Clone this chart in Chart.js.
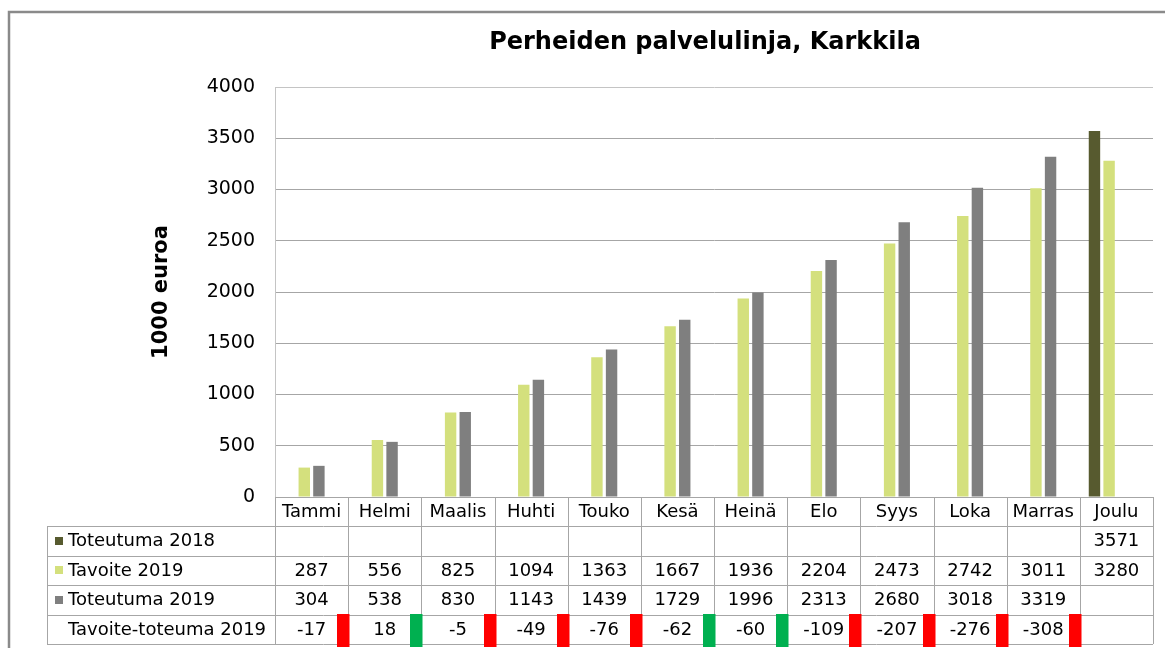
<!DOCTYPE html>
<html lang="fi">
<head>
<meta charset="utf-8">
<title>Perheiden palvelulinja, Karkkila</title>
<script src="https://cdn.jsdelivr.net/npm/chart.js@4.4.1/dist/chart.umd.min.js"></script>
<style>
  html, body { margin: 0; padding: 0; background: #fff; }
  canvas { display: block; }
</style>
</head>
<body>
<canvas id="chart" width="1165" height="648"></canvas>
<script>
// ======================
// DATA
// ======================
const kuukaudet = ['Tammi', 'Helmi', 'Maalis', 'Huhti', 'Touko', 'Kesä', 'Heinä', 'Elo', 'Syys', 'Loka', 'Marras', 'Joulu'];
const toteuma2018 = [null, null, null, null, null, null, null, null, null, null, null, 3571];
const tavoite2019 = [287, 556, 825, 1094, 1363, 1667, 1936, 2204, 2473, 2742, 3011, 3280];
const toteuma2019 = [304, 538, 830, 1143, 1439, 1729, 1996, 2313, 2680, 3018, 3319, null];
const erotus2019 = [-17, 18, -5, -49, -76, -62, -60, -109, -207, -276, -308, null];
// liikennevalot taulukon viimeisellä rivillä
const erotusTila = ['red', 'green', 'red', 'red', 'red', 'green', 'green', 'red', 'red', 'red', 'red', null];

const FONT = "'DejaVu Sans', Verdana, sans-serif";
const VARIT = ['#575a2f', '#d4e07d', '#7f7f7f'];
const VALOT = { red: '#ff0000', green: '#00b050' };
const VIIVA = '#a6a6a6';

// ======================
// TAULUKKO KAAVION ALLA
// ======================
const taulukkoPlugin = {
    id: 'taulukko',
    beforeDraw(chart) {
        const ctx = chart.ctx;
        ctx.save();
        ctx.fillStyle = '#ffffff';
        ctx.fillRect(0, 0, chart.width, chart.height);
        ctx.strokeStyle = '#8a8a8a';
        ctx.lineWidth = 2.5;
        ctx.strokeRect(9, 12, chart.width + 40, chart.height + 40);
        ctx.restore();
    },
    afterDraw(chart) {
        const ctx = chart.ctx;
        const ca = chart.chartArea;
        const x = chart.scales.x;
        const colW = (ca.right - ca.left) / kuukaudet.length;
        const headTop = ca.bottom;
        const headBottom = headTop + 29;
        const rowH = 29.5;
        const labelLeft = 47;

        const rivit = [
            { nimi: chart.data.datasets[0].label, arvot: toteuma2018, vari: VARIT[0] },
            { nimi: chart.data.datasets[1].label, arvot: tavoite2019, vari: VARIT[1] },
            { nimi: chart.data.datasets[2].label, arvot: toteuma2019, vari: VARIT[2] },
            { nimi: chart.data.datasets[3].label, arvot: erotus2019, vari: null }
        ];
        const tableBottom = headBottom + rowH * rivit.length;

        ctx.save();
        ctx.strokeStyle = VIIVA;
        ctx.lineWidth = 1;
        ctx.beginPath();
        // vaakaviivat
        ctx.moveTo(ca.left, Math.round(headTop) + 0.5);
        ctx.lineTo(ca.right, Math.round(headTop) + 0.5);
        for (let r = 0; r <= rivit.length; r++) {
            const y = Math.round(headBottom + r * rowH) + 0.5;
            ctx.moveTo(labelLeft, y);
            ctx.lineTo(ca.right, y);
        }
        // pystyviivat
        for (let i = 0; i <= kuukaudet.length; i++) {
            const xx = Math.round(ca.left + i * colW) + 0.5;
            ctx.moveTo(xx, headTop);
            ctx.lineTo(xx, tableBottom);
        }
        ctx.moveTo(labelLeft + 0.5, headBottom);
        ctx.lineTo(labelLeft + 0.5, tableBottom);
        ctx.stroke();

        ctx.fillStyle = '#000000';
        ctx.font = '18px ' + FONT;
        ctx.textBaseline = 'middle';
        ctx.textAlign = 'center';

        // kuukausien nimet
        kuukaudet.forEach((k, i) => {
            ctx.fillText(k, x.getPixelForValue(i), (headTop + headBottom) / 2 + 1);
        });

        rivit.forEach((rivi, r) => {
            const yc = headBottom + r * rowH + rowH / 2 + 1;
            // selite
            if (rivi.vari) {
                ctx.fillStyle = rivi.vari;
                ctx.fillRect(55, Math.round(yc - 5), 8, 8);
            }
            ctx.fillStyle = '#000000';
            ctx.textAlign = 'left';
            ctx.fillText(rivi.nimi, 68, yc);
            ctx.textAlign = 'center';
            rivi.arvot.forEach((v, i) => {
                if (v === null) return;
                ctx.fillText(String(v), x.getPixelForValue(i), yc);
            });
        });

        // punaiset ja vihreät merkit
        erotusTila.forEach((t, i) => {
            if (!t) return;
            const right = ca.left + (i + 1) * colW;
            ctx.fillStyle = VALOT[t];
            ctx.fillRect(Math.round(right - 11), 614, 12.5, 33);
        });

        // otsikko
        ctx.fillStyle = '#000000';
        ctx.font = 'bold 24px ' + FONT;
        ctx.textAlign = 'center';
        ctx.fillText('Perheiden palvelulinja, Karkkila', 705, 43);
        ctx.restore();
    }
};

// ======================
// KAAVIO
// ======================
const ctx = document.getElementById('chart').getContext('2d');
new Chart(ctx, {
    type: 'bar',
    data: {
        labels: kuukaudet,
        datasets: [
            { label: 'Toteutuma 2018', data: toteuma2018, backgroundColor: VARIT[0] },
            { label: 'Tavoite 2019', data: tavoite2019, backgroundColor: VARIT[1] },
            { label: 'Toteutuma 2019', data: toteuma2019, backgroundColor: VARIT[2] },
            { label: 'Tavoite-toteuma 2019', data: erotus2019, backgroundColor: 'rgba(0,0,0,0)' }
        ]
    },
    options: {
        responsive: false,
        animation: false,
        events: [],
        layout: { padding: { left: 149, right: 12, top: 87, bottom: 151 } },
        datasets: {
            bar: { categoryPercentage: 0.8, barPercentage: 0.78 }
        },
        plugins: {
            legend: { display: false },
            tooltip: { enabled: false },
            title: { display: false }
        },
        scales: {
            x: { display: false },
            y: {
                min: 0,
                max: 4000,
                afterFit(scale) { scale.width = 275 - 149; },
                ticks: {
                    stepSize: 500,
                    padding: 20,
                    color: '#000000',
                    font: { family: FONT, size: 19 },
                    callback: function(value) {
                        return String(value);
                    }
                },
                grid: {
                    drawTicks: false,
                    color: c => (c.tick && c.tick.value === 4000) ? '#c4c4c4' : VIIVA
                },
                border: { color: '#c4c4c4' },
                title: {
                    display: true,
                    text: '1000 euroa',
                    color: '#000000',
                    padding: 0,
                    font: { family: FONT, size: 21, weight: 'bold' }
                }
            }
        }
    },
    plugins: [taulukkoPlugin]
});
</script>
</body>
</html>
